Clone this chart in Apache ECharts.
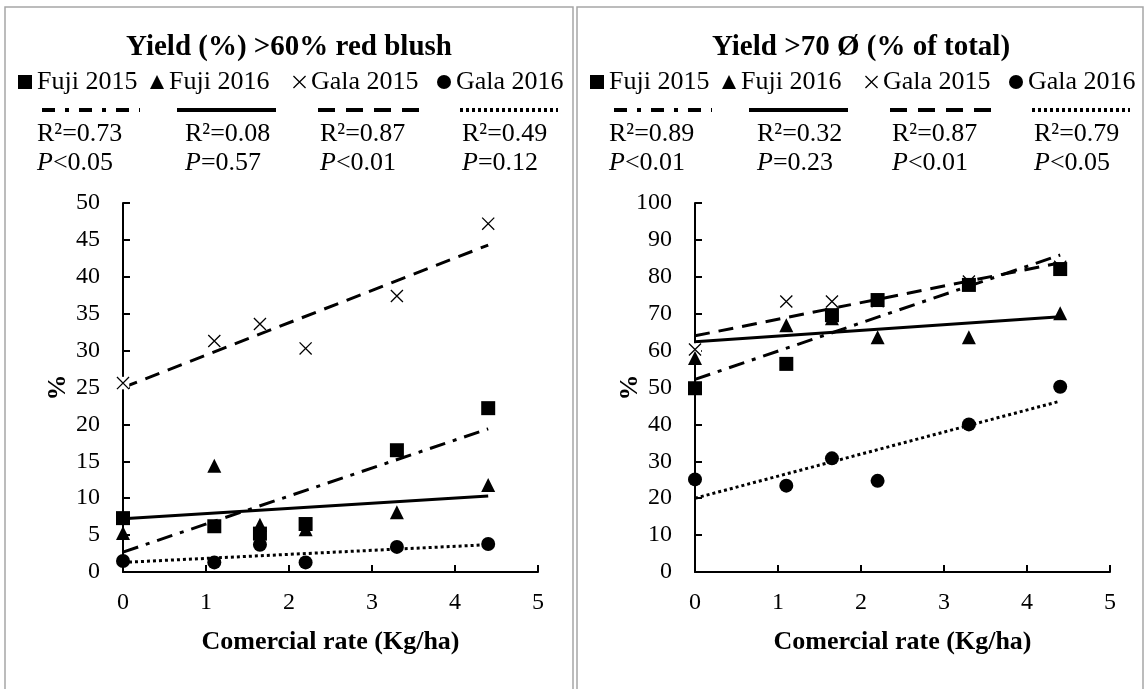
<!DOCTYPE html>
<html>
<head>
<meta charset="utf-8">
<script src="https://cdn.jsdelivr.net/npm/echarts@6/dist/echarts.min.js"></script>
<style>
html,body{margin:0;padding:0;background:#fff;}
#chart{width:1146px;height:689px;}
</style>
</head>
<body>
<div id="chart"></div>
<script>
// ---- data ----
const xVals = [0, 1.1, 1.65, 2.2, 3.3, 4.4];
const trendX = [0, 4.4];
const seriesNames = ['Fuji 2015', 'Fuji 2016', 'Gala 2015', 'Gala 2016'];

const titleLeft = 'Yield (%) >60% red blush';
const titleRight = 'Yield >70 Ø (% of total)';
const xAxisTitle = 'Comercial rate (Kg/ha)';
const yAxisTitle = '%';

// left panel
const fuji15L = [7.3, 6.2, 5.2, 6.5, 16.5, 22.2];
const fuji16L = [5.3, 14.4, 6.4, 5.8, 8.1, 11.8];
const gala15L = [25.6, 31.3, 33.6, 30.3, 37.4, 47.2];
const gala16L = [1.5, 1.3, 3.7, 1.3, 3.4, 3.8];
const fuji15TrendL = [2.7, 19.4];
const fuji16TrendL = [7.2, 10.3];
const gala15TrendL = [25.0, 44.3];
const gala16TrendL = [1.3, 3.7];
const r2L = ['0.73', '0.08', '0.87', '0.49'];
const pL = ['<0.05', '=0.57', '<0.01', '=0.12'];

// right panel
const fuji15R = [49.8, 56.4, 69.6, 73.7, 77.8, 82.1];
const fuji16R = [58.0, 66.9, 68.8, 63.6, 63.6, 70.1];
const gala15R = [60.3, 73.3, 73.3, 73.4, 78.7, 82.7];
const gala16R = [25.1, 23.4, 30.8, 24.7, 40.0, 50.2];
const fuji15TrendR = [52.2, 85.9];
const fuji16TrendR = [62.4, 69.2];
const gala15TrendR = [64.0, 83.8];
const gala16TrendR = [20.0, 46.3];
const r2R = ['0.89', '0.32', '0.87', '0.79'];
const pR = ['<0.01', '=0.23', '<0.01', '<0.05'];

const yMaxL = 50, yIntL = 5;
const yMaxR = 100, yIntR = 10;

// ---- styles ----
const FONT = 'Liberation Serif';
const crossPath = 'path://M0,0.7L0.7,0L10,9.3L9.3,10Z M9.3,0L10,0.7L0.7,10L0,9.3Z';
const symbols = ['rect', 'triangle', crossPath, 'circle'];
const symbolSizes = [14, 14, 13, 14];
const dashTypes = [[16, 8, 4, 8], 'solid', [15, 9], [3, 3]];
const sampleDash = [[13, 10, 4, 10], null, [17, 11], [3, 3]];

function pairs(ys) { return xVals.map((x, i) => [x, ys[i]]); }
function trend(t) { return trendX.map((x, i) => [x, t[i]]); }

const panels = [
  { off: 0, gridLeft: 123, yMax: yMaxL, yInt: yIntL,
    data: [fuji15L, fuji16L, gala15L, gala16L],
    trends: [fuji15TrendL, fuji16TrendL, gala15TrendL, gala16TrendL],
    r2: r2L, p: pL, title: titleLeft },
  { off: 572, gridLeft: 695, yMax: yMaxR, yInt: yIntR,
    data: [fuji15R, fuji16R, gala15R, gala16R],
    trends: [fuji15TrendR, fuji16TrendR, gala15TrendR, gala16TrendR],
    r2: r2R, p: pR, title: titleRight }
];

const grid = [], xAxis = [], yAxis = [], series = [], legend = [], graphic = [];
const legendX = [18, 150, 293, 437];
const sampleX = [[42, 140], [177, 276], [318, 420], [460, 558]];
const statX = [37, 185, 320, 462];

// panel borders
graphic.push({ type: 'rect', shape: { x: 5, y: 7, width: 568, height: 700 }, style: { fill: 'none', stroke: '#a6a6a6', lineWidth: 1.5 }, silent: true, z: 0 });
graphic.push({ type: 'rect', shape: { x: 577, y: 7, width: 566, height: 700 }, style: { fill: 'none', stroke: '#a6a6a6', lineWidth: 1.5 }, silent: true, z: 0 });

panels.forEach((pn, gi) => {
  grid.push({ left: pn.gridLeft, top: 203, width: 415, height: 369 });
  xAxis.push({
    type: 'value', gridIndex: gi, min: 0, max: 5, interval: 1,
    name: xAxisTitle, nameLocation: 'middle', nameGap: 57, nameMoveOverlap: false,
    nameTextStyle: { fontFamily: FONT, fontSize: 26, fontWeight: 'bold', color: '#000' },
    axisLine: { show: true, onZero: false, lineStyle: { color: '#000', width: 2 } },
    axisTick: { show: true, inside: true, length: 7, lineStyle: { color: '#000', width: 2 } },
    axisLabel: { margin: 19, fontFamily: FONT, fontSize: 24, color: '#000' },
    splitLine: { show: false }
  });
  yAxis.push({
    type: 'value', gridIndex: gi, min: 0, max: pn.yMax, interval: pn.yInt,
    name: yAxisTitle, nameLocation: 'middle', nameGap: 52, nameRotate: 90, nameMoveOverlap: false,
    nameTextStyle: { fontFamily: FONT, fontSize: 26, fontWeight: 'bold', color: '#000' },
    axisLine: { show: true, onZero: false, lineStyle: { color: '#000', width: 2 } },
    axisTick: { show: true, inside: true, length: 7, lineStyle: { color: '#000', width: 2 } },
    axisLabel: { margin: 23, fontFamily: FONT, fontSize: 24, color: '#000' },
    splitLine: { show: false }
  });
  // trend lines
  pn.trends.forEach((t, k) => {
    series.push({
      type: 'line', name: seriesNames[k] + ' trend', xAxisIndex: gi, yAxisIndex: gi,
      data: trend(t), showSymbol: false, symbol: 'none', silent: true, z: 2,
      lineStyle: { color: '#000', width: 3, type: dashTypes[k], cap: 'butt' }
    });
  });
  // markers
  pn.data.forEach((d, k) => {
    if (k === 2) {
      series.push({
        type: 'scatter', name: 'Gala 2015 background', xAxisIndex: gi, yAxisIndex: gi,
        data: pairs(d), symbol: 'rect', symbolSize: 12.5, silent: true, z: 3,
        itemStyle: { color: '#fff', opacity: 1 }
      });
    }
    series.push({
      type: 'scatter', name: seriesNames[k], xAxisIndex: gi, yAxisIndex: gi,
      data: pairs(d), symbol: symbols[k], symbolSize: symbolSizes[k], z: 4,
      itemStyle: { color: '#000', opacity: 1 }
    });
  });
  // legends
  seriesNames.forEach((nm, k) => {
    legend.push({
      data: [{ name: nm, icon: symbols[k] }], left: legendX[k] + pn.off, top: 67, padding: 0,
      itemWidth: symbolSizes[k], itemHeight: symbolSizes[k], selectedMode: false,
      textStyle: { fontFamily: FONT, fontSize: 26, color: '#000', lineHeight: 30 }
    });
  });
  // title
  graphic.push({ type: 'text', x: 289 + pn.off, y: 48, silent: true,
    style: { text: pn.title, fill: '#000', fontFamily: FONT, fontSize: 29, fontWeight: 'bold', align: 'center', verticalAlign: 'middle' } });
  // line samples & stats
  sampleX.forEach((sx, k) => {
    graphic.push({ type: 'line', silent: true,
      shape: { x1: sx[0] + pn.off, y1: 110, x2: sx[1] + pn.off, y2: 110 },
      style: { stroke: '#000', lineWidth: 4, lineDash: sampleDash[k] } });
    graphic.push({ type: 'text', x: statX[k] + pn.off, y: 134, silent: true,
      style: { text: 'R²=' + pn.r2[k], fill: '#000', fontFamily: FONT, fontSize: 26, align: 'left', verticalAlign: 'middle' } });
    graphic.push({ type: 'text', x: statX[k] + pn.off, y: 163, silent: true,
      style: { text: '{i|P}' + pn.p[k], fill: '#000', fontFamily: FONT, fontSize: 26, align: 'left', verticalAlign: 'middle',
        rich: { i: { fontStyle: 'italic', fontFamily: FONT, fontSize: 26, fill: '#000' } } } });
  });
});

const chart = echarts.init(document.getElementById('chart'), null, { renderer: 'canvas' });
chart.setOption({
  backgroundColor: '#fff',
  animation: false,
  grid, xAxis, yAxis, series, legend, graphic
});
</script>
</body>
</html>
